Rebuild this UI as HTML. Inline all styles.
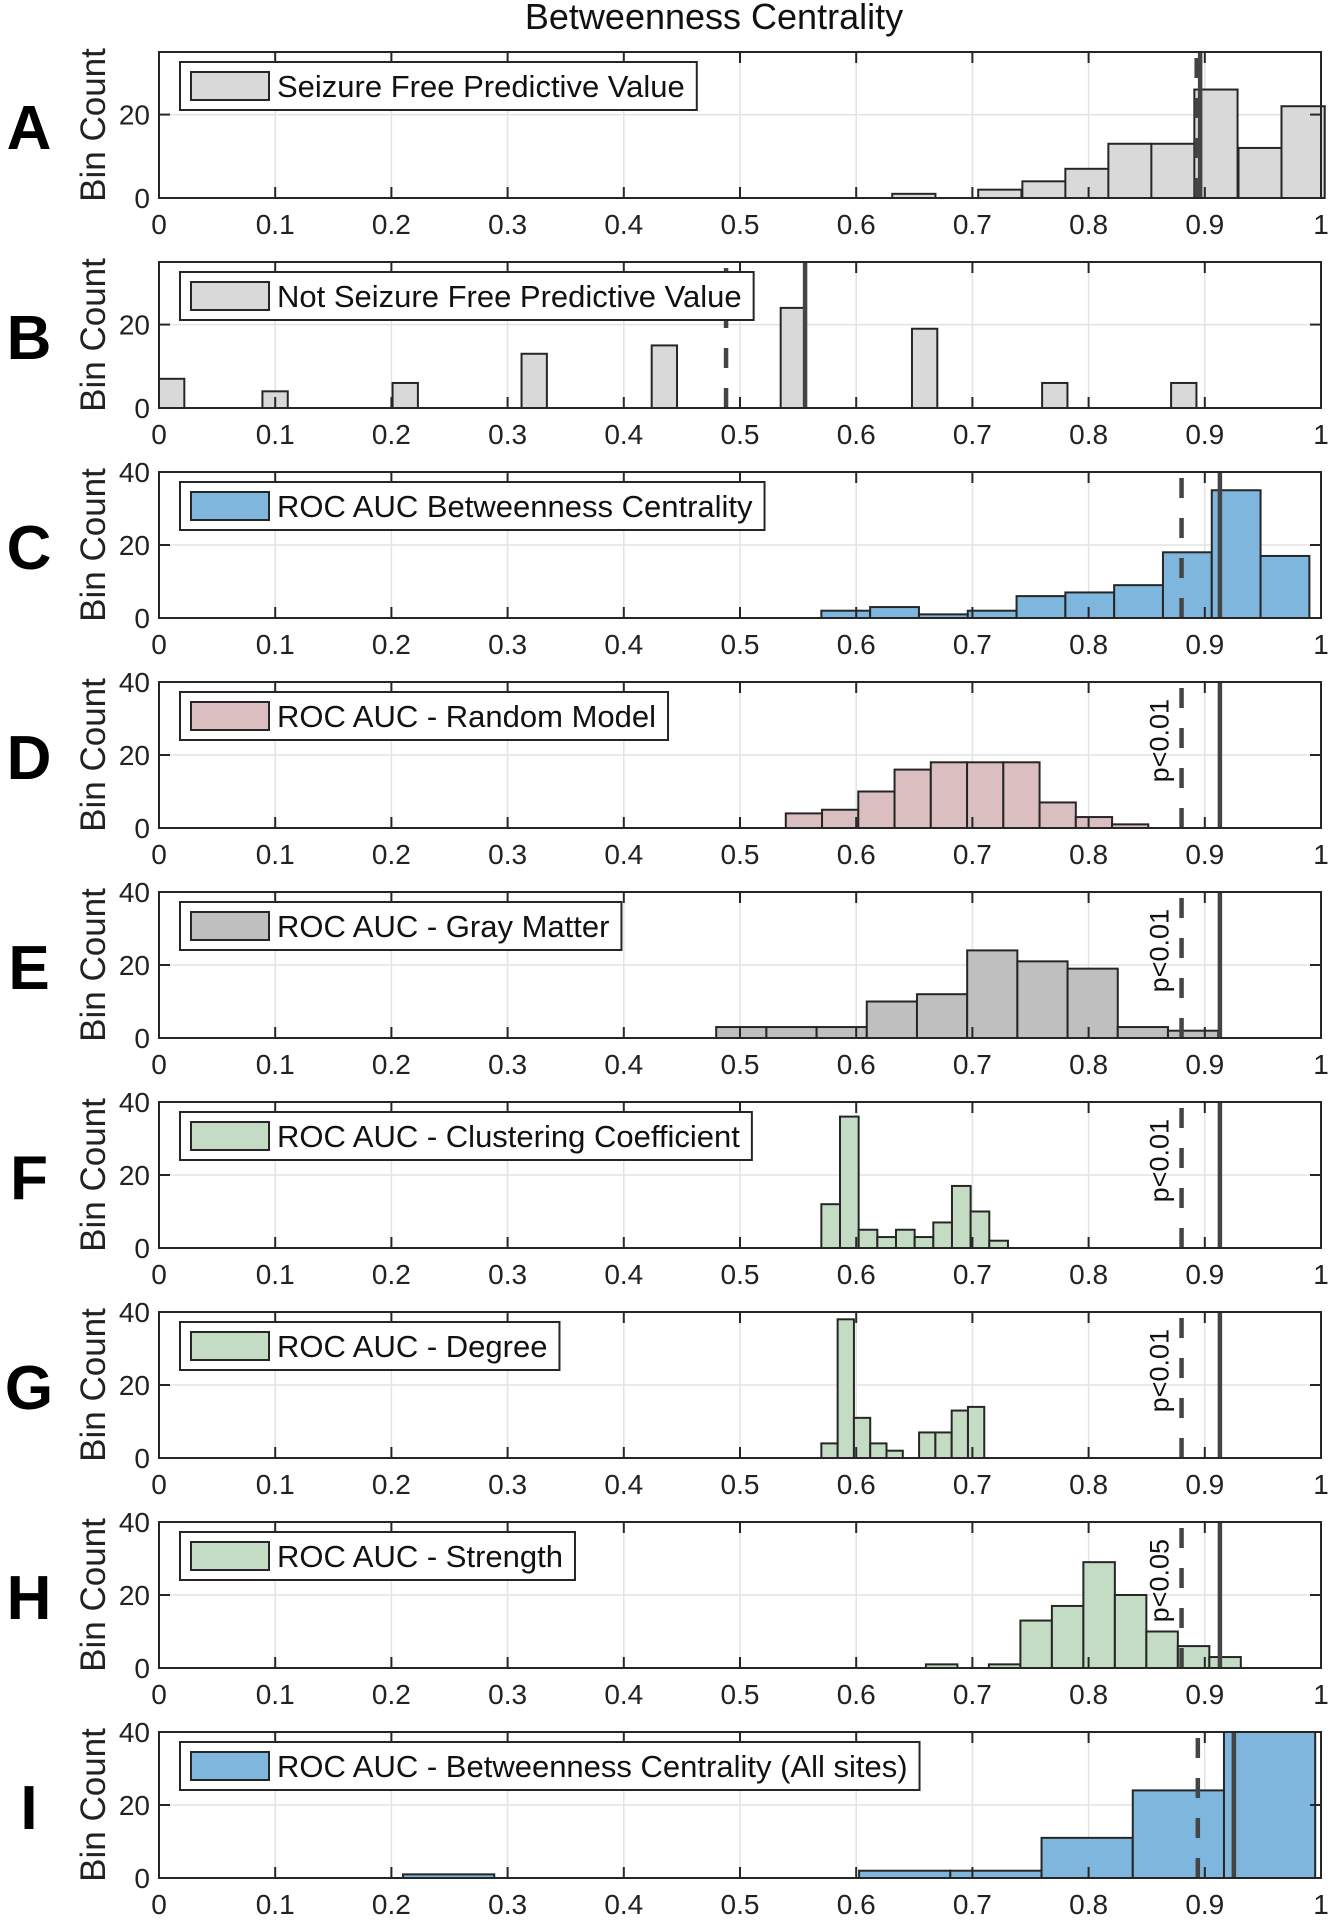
<!DOCTYPE html>
<html><head><meta charset="utf-8"><style>
html,body{margin:0;padding:0;background:#fff;}
svg{display:block;font-family:"Liberation Sans",Arial,sans-serif;}
</style></head><body>
<svg id="fig" width="1328" height="1920" viewBox="0 0 1328 1920" xmlns="http://www.w3.org/2000/svg">
<text x="714" y="29" text-anchor="middle" font-size="36" fill="#111">Betweenness Centrality</text>
</svg>
<script>
// ---- data ----
const xTicks = [0,0.1,0.2,0.3,0.4,0.5,0.6,0.7,0.8,0.9,1];
const xTickLabels = ["0","0.1","0.2","0.3","0.4","0.5","0.6","0.7","0.8","0.9","1"];
const panelLetters = ["A","B","C","D","E","F","G","H","I"];
const legendLabels = ["Seizure Free Predictive Value","Not Seizure Free Predictive Value","ROC AUC Betweenness Centrality","ROC AUC - Random Model","ROC AUC - Gray Matter","ROC AUC - Clustering Coefficient","ROC AUC - Degree","ROC AUC - Strength","ROC AUC - Betweenness Centrality (All sites)"];
const yMaxes = [35,35,40,40,40,40,40,40,40];
const yTicksAB = [0,20];
const yTicksOther = [0,20,40];

const startsA = [0.631,0.668,0.705,0.743,0.780,0.817,0.854,0.891,0.929,0.966];
const countsA = [1,0,2,4,7,13,13,26,12,22];
const widthA = 0.0372;
const startsB = [0.000,0.089,0.201,0.312,0.424,0.535,0.648,0.760,0.871];
const countsB = [7,4,6,13,15,24,19,6,6];
const widthB = 0.0218;
const startC = 0.570, widthC = 0.042;
const countsC = [2,3,1,2,6,7,9,18,35,17];
const startD = 0.5394, widthD = 0.0312;
const countsD = [4,5,10,16,18,18,18,7,3,1];
const startE = 0.4795, widthE = 0.0432;
const countsE = [3,3,3,10,12,24,21,19,3,2];
const startF = 0.570, widthF = 0.01606;
const countsF = [12,36,5,3,5,3,7,17,10,2];
const startG = 0.570, widthG = 0.01402;
const countsG = [4,38,11,4,2,0,7,7,13,14];
const startH = 0.660, widthH = 0.0271;
const countsH = [1,0,1,13,17,29,20,10,6,3];
const startI = 0.210, widthI = 0.0785;
const countsI = [1,0,0,0,0,2,2,11,24,40];

const dashedX = [0.893,0.488,0.880,0.880,0.880,0.880,0.880,0.880,0.894];
const solidX  = [0.896,0.556,0.913,0.913,0.913,0.913,0.913,0.913,0.925];
const pLabels = ["","","","p<0.01","p<0.01","p<0.01","p<0.01","p<0.05",""];
const fills = ["#d9d9d9","#d9d9d9","#7fb6de","#dbbfc0","#bfbfbf","#c3dcc3","#c3dcc3","#c3dcc3","#7fb6de"];

// ---- layout ----
const NS = "http://www.w3.org/2000/svg";
const svg = document.getElementById("fig");
const X0 = 159, X1 = 1321, TOP0 = 52, STEP = 210, H = 146;
function xScale(v){ return X0 + v*(X1-X0); }
function mk(tag, attrs, parent){
  const e = document.createElementNS(NS, tag);
  for (const k in attrs) e.setAttribute(k, attrs[k]);
  (parent||svg).appendChild(e);
  return e;
}
function seq(start, width, n){ const a=[]; for(let i=0;i<n;i++) a.push(start+i*width); return a; }

const panels = [
  {starts:startsA, counts:countsA, w:widthA},
  {starts:startsB, counts:countsB, w:widthB},
  {starts:seq(startC,widthC,countsC.length), counts:countsC, w:widthC},
  {starts:seq(startD,widthD,countsD.length), counts:countsD, w:widthD},
  {starts:seq(startE,widthE,countsE.length), counts:countsE, w:widthE},
  {starts:seq(startF,widthF,countsF.length), counts:countsF, w:widthF},
  {starts:seq(startG,widthG,countsG.length), counts:countsG, w:widthG},
  {starts:seq(startH,widthH,countsH.length), counts:countsH, w:widthH},
  {starts:seq(startI,widthI,countsI.length), counts:countsI, w:widthI}
];

panels.forEach((p, i) => {
  const T = TOP0 + i*STEP, B = T + H, ymax = yMaxes[i];
  const yScale = v => B - Math.min(v, ymax)/ymax*H;
  const g = mk("g", {});
  
  

  const letter = mk("text", {x:29, y:T+97, "text-anchor":"middle", "font-size":62, "font-weight":"bold", fill:"#000"}, g);
  
  
  letter.textContent = panelLetters[i];

  const ylab = mk("text", {x:0, y:0, transform:`translate(105,${T+H/2}) rotate(-90)`, "text-anchor":"middle", "font-size":35, fill:"#222"}, g);
  
  
  ylab.textContent = "Bin Count";

  xTicks.forEach(t => {
    const l = mk("line", {x1:xScale(t), x2:xScale(t), y1:T, y2:B, stroke:"#e3e3e3", "stroke-width":1.5}, g);
    
    
  });
  const yt = i < 2 ? yTicksAB : yTicksOther;
  yt.forEach(t => {
    const l = mk("line", {x1:X0, x2:X1, y1:yScale(t), y2:yScale(t), stroke:"#e3e3e3", "stroke-width":1.5}, g);
    
    
  });

  p.counts.forEach((c, k) => {
    if (c <= 0) return;
    const x = xScale(p.starts[k]), w = xScale(p.starts[k]+p.w) - x;
    const r = mk("rect", {x:x, y:yScale(c), width:w, height:B-yScale(c), fill:fills[i], stroke:"#262626", "stroke-width":2}, g);
    
    
  });

  const dl = mk("line", {x1:xScale(dashedX[i]), x2:xScale(dashedX[i]), y1:T+6, y2:B, stroke:"#444", "stroke-width":4.5, "stroke-dasharray":"20,20"}, g);
  
  
  const sl = mk("line", {x1:xScale(solidX[i]), x2:xScale(solidX[i]), y1:T, y2:B, stroke:"#444", "stroke-width":4.5}, g);
  
  

  if (pLabels[i]) {
    const pl = mk("text", {x:0, y:0, transform:`translate(${xScale(dashedX[i])-13},${T+17}) rotate(-90)`, "text-anchor":"end", "font-size":27, fill:"#111"}, g);
    
    
    pl.textContent = pLabels[i];
  }

  const fr = mk("rect", {x:X0, y:T, width:X1-X0, height:H, fill:"none", stroke:"#262626", "stroke-width":2}, g);
  
  

  xTicks.forEach((t, k) => {
    const x = xScale(t);
    const a = mk("line", {x1:x, x2:x, y1:B, y2:B-11, stroke:"#262626", "stroke-width":2}, g);
    
    
    const b = mk("line", {x1:x, x2:x, y1:T, y2:T+11, stroke:"#262626", "stroke-width":2}, g);
    
    
    const tl = mk("text", {x:x, y:B+36, "text-anchor":"middle", "font-size":28, fill:"#222"}, g);
    
    
    tl.textContent = xTickLabels[k];
  });
  yt.forEach(t => {
    const y = yScale(t);
    const a = mk("line", {x1:X0, x2:X0+11, y1:y, y2:y, stroke:"#262626", "stroke-width":2}, g);
    
    
    const b = mk("line", {x1:X1, x2:X1-11, y1:y, y2:y, stroke:"#262626", "stroke-width":2}, g);
    
    
    const tl = mk("text", {x:150, y:y+10, "text-anchor":"end", "font-size":28, fill:"#222"}, g);
    
    
    tl.textContent = String(t);
  });

  const lg = mk("g", {}, g);
  
  
  const box = mk("rect", {x:180, y:T+10, width:500, height:48, fill:"#fff", stroke:"#262626", "stroke-width":2}, lg);
  
  
  const sw = mk("rect", {x:191, y:T+20, width:78, height:28, fill:fills[i], stroke:"#262626", "stroke-width":2}, lg);
  
  
  const lt = mk("text", {x:277, y:T+45, "font-size":31, fill:"#111"}, lg);
  
  
  lt.textContent = legendLabels[i];
  try { box.setAttribute("width", lt.getComputedTextLength() + 277 - 180 + 12); } catch(e) {}
});
</script>
</body></html>
